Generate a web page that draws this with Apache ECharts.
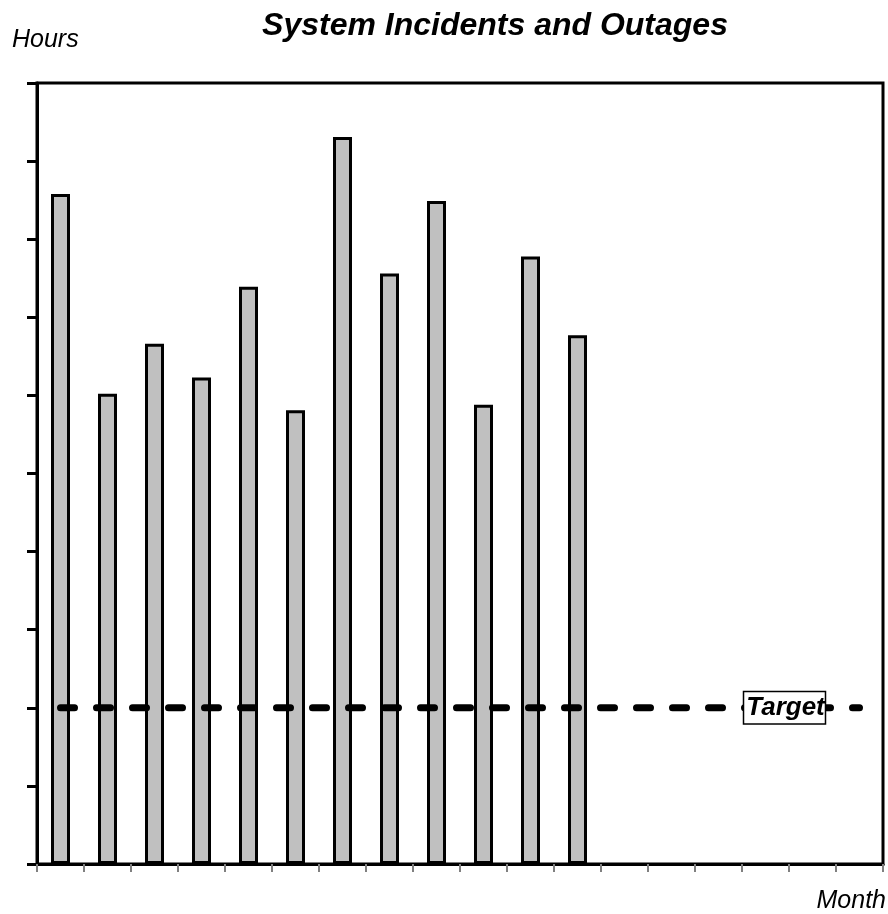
<!DOCTYPE html>
<html>
<head>
<meta charset="utf-8">
<script src="https://cdn.jsdelivr.net/npm/echarts@6/dist/echarts.min.js"></script>
<style>html,body{margin:0;padding:0;background:#fff;}#c{width:888px;height:914px;}</style>
</head>
<body>
<div id="c"></div>
<script>
var months = ['1','2','3','4','5','6','7','8','9','10','11','12','13','14','15','16','17','18'];
var hours = [8.58, 6.02, 6.66, 6.23, 7.39, 5.81, 9.31, 7.56, 8.49, 5.88, 7.78, 6.77];
var targetValue = 2;
var targetLabelIndex = 15;
var yMin = 0, yMax = 10, yInterval = 1;

var targetData = months.map(function (m, i) {
  if (i === targetLabelIndex) {
    return {
      value: targetValue,
      label: {
        show: true,
        position: 'inside',
        offset: [19, 0],
        formatter: 'Target',
        fontFamily: 'Liberation Sans, Arial, sans-serif',
        fontSize: 26,
        fontWeight: 'bold',
        fontStyle: 'italic',
        color: '#000',
        backgroundColor: '#fff',
        borderColor: '#000',
        borderWidth: 1.5,
        padding: [3, 0, 2, 2]
      }
    };
  }
  return targetValue;
});

var chart = echarts.init(document.getElementById('c'), null, {renderer: 'canvas'});
chart.setOption({
  animation: false,
  backgroundColor: '#fff',
  title: [
    {
      text: 'System Incidents and Outages',
      left: 495, top: 10, textAlign: 'center', padding: 0,
      textStyle: {fontFamily: 'Liberation Sans, Arial, sans-serif', fontSize: 32, fontWeight: 'bold', fontStyle: 'italic', color: '#000'}
    },
    {
      text: 'Hours', left: 12, top: 28, padding: 0,
      textStyle: {fontFamily: 'Liberation Sans, Arial, sans-serif', fontSize: 25, fontWeight: 'normal', fontStyle: 'italic', color: '#000'}
    },
    {
      text: 'Month', right: 2, top: 889, padding: 0,
      textStyle: {fontFamily: 'Liberation Sans, Arial, sans-serif', fontSize: 25, fontWeight: 'normal', fontStyle: 'italic', color: '#000'}
    }
  ],
  grid: {
    left: 37, right: 5, top: 83, bottom: 50,
    show: true, borderColor: '#000', borderWidth: 3, backgroundColor: 'transparent'
  },
  xAxis: {
    type: 'category',
    data: months,
    boundaryGap: true,
    axisLine: {show: true, lineStyle: {color: '#000', width: 3}},
    axisTick: {show: true, inside: false, length: 8, lineStyle: {color: '#808080', width: 2}},
    axisLabel: {show: false},
    splitLine: {show: false}
  },
  yAxis: {
    type: 'value',
    min: yMin, max: yMax, interval: yInterval,
    axisLine: {show: true, lineStyle: {color: '#000', width: 3}},
    axisTick: {show: true, inside: false, length: 10, lineStyle: {color: '#000', width: 3}},
    axisLabel: {show: false},
    splitLine: {show: false}
  },
  series: [
    {
      type: 'bar',
      data: hours,
      barWidth: 19,
      itemStyle: {color: '#c0c0c0', borderColor: '#000', borderWidth: 3},
      z: 2
    },
    {
      type: 'line',
      data: targetData,
      symbol: 'circle',
      symbolSize: 1,
      showSymbol: true,
      itemStyle: {color: 'rgba(0,0,0,0)', borderWidth: 0},
      lineStyle: {color: '#000', width: 7, type: [14, 22], cap: 'round'},
      z: 5
    }
  ]
});
</script>
</body>
</html>
